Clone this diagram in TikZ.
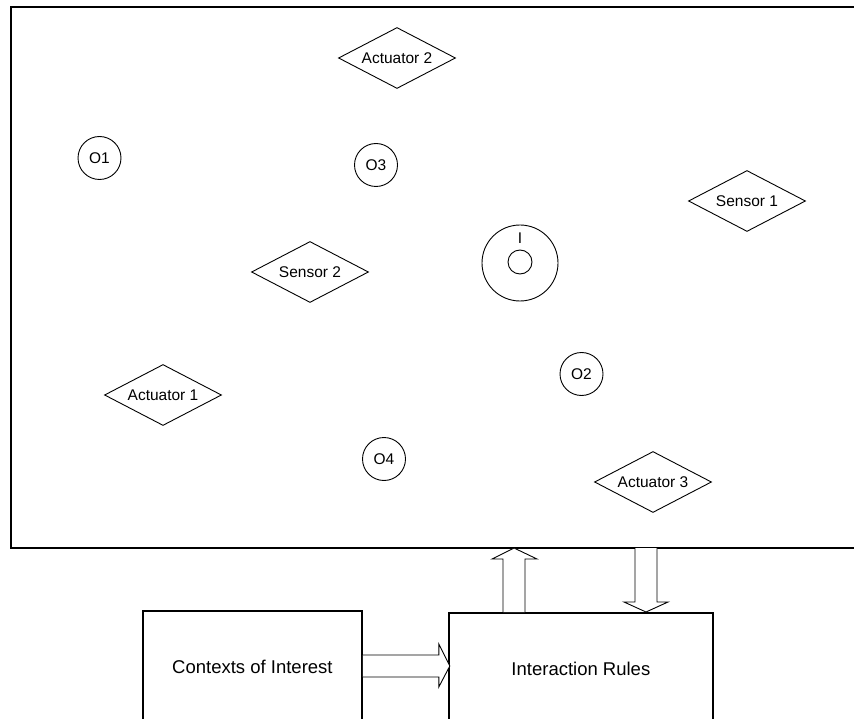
\documentclass[tikz,border=0pt]{standalone}
\usepackage{fontspec}
\setmainfont{Liberation Sans}
\usetikzlibrary{shapes.geometric,calc}
\begin{document}
\begin{tikzpicture}[x=1pt,y=-1pt,
 dia/.style={diamond,draw,line width=0.9pt,aspect=2,inner sep=0pt,minimum width=117pt,minimum height=61pt,font=\fontsize{15.5}{18}\selectfont},
 obj/.style={circle,draw,line width=0.9pt,inner sep=0pt,minimum size=43pt,font=\fontsize{15.5}{18}\selectfont},
 box/.style={draw,line width=1.8pt,anchor=north west,inner sep=0pt,font=\fontsize{18.5}{22}\selectfont},
 fat/.style={draw,line width=0.9pt,fill=white,line join=miter}]
\useasboundingbox (0,0) rectangle (854,719);
% environment frame
\node[draw,line width=2pt,anchor=north west,inner sep=0pt,minimum width=870pt,minimum height=541pt] (env) at (10,6) {};
% diamonds
\node[dia] (a2) at (397,58) {Actuator 2};
\node[dia] (s1) at (747,201) {Sensor 1};
\node[dia] (s2) at (310,272) {Sensor 2};
\node[dia] (a1) at (163,395) {Actuator 1};
\node[dia] (a3) at (653,482) {Actuator 3};
% objects
\node[obj] (o1) at (99.5,158) {O1};
\node[obj] (o3) at (376,165) {O3};
\node[obj] (o2) at (581.5,374) {O2};
\node[obj] (o4) at (384,459) {O4};
% I
\node[circle,draw,line width=0.9pt,inner sep=0pt,minimum size=76pt] (iout) at (520,263) {};
\node[circle,draw,line width=0.9pt,inner sep=0pt,minimum size=24pt] (iin) at (520,262) {};
\node[font=\fontsize{15.5}{18}\selectfont,inner sep=0pt] (ilab) at (520,238) {I};
% bottom boxes
\node[box,minimum width=219pt,minimum height=112pt] (ctx) at (142,610) {Contexts of Interest};
\node[box,minimum width=264pt,minimum height=112pt] (rules) at (448,612) {Interaction Rules};
% fat arrows
\coordinate (upb) at ($(rules.north west)+(66,0)$);
\coordinate (dnb) at ($(rules.north west)+(198,0)$);
\coordinate (rtb) at ($(ctx.north east)+(0,56)$);
\draw[fat] ($(upb)+(-11,0)$) -- ($(upb)+(-11,-53)$) -- ($(upb)+(-22,-53)$) -- ($(upb)+(0,-64)$) -- ($(upb)+(23,-53)$) -- ($(upb)+(11,-53)$) -- ($(upb)+(11,0)$);
\draw[fat] ($(dnb)+(-11,-64)$) -- ($(dnb)+(-11,-10)$) -- ($(dnb)+(-22,-10)$) -- (dnb) -- ($(dnb)+(22,-10)$) -- ($(dnb)+(11,-10)$) -- ($(dnb)+(11,-64)$);
\draw[fat] ($(rtb)+(0,-11)$) -- ($(rtb)+(76,-11)$) -- ($(rtb)+(76,-22)$) -- ($(rtb)+(87,0)$) -- ($(rtb)+(76,21)$) -- ($(rtb)+(76,11)$) -- ($(rtb)+(0,11)$);
\end{tikzpicture}
\end{document}
